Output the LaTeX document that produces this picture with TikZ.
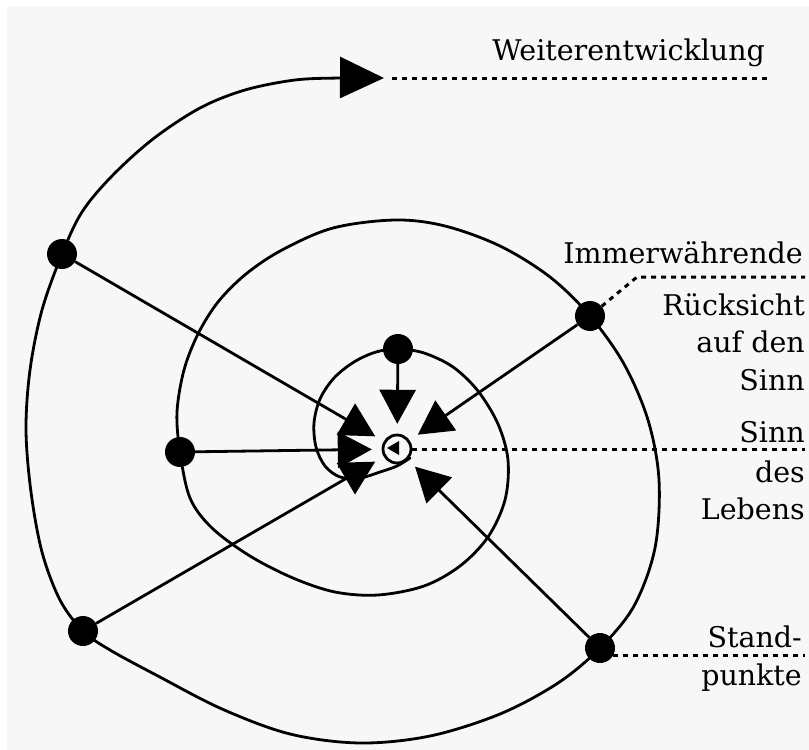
\documentclass[tikz,border=0pt]{standalone}
\usepackage{fontspec}
\setmainfont{DejaVu Serif}
\usetikzlibrary{arrows.meta}
\definecolor{bg}{HTML}{F7F7F7}
\begin{document}
\begin{tikzpicture}[x=1pt,y=-1pt,
  curve/.style={line width=2.8pt, line join=round, line cap=round},
  dot/.style={circle, fill=black, minimum size=30pt, inner sep=0pt},
  arr/.style={line width=2.8pt, -{Triangle[length=34pt,width=36pt]}},
  leader/.style={line width=3pt, dash pattern=on 5pt off 5pt},
  lbl/.style={anchor=base east, inner sep=0pt, font=\fontsize{28.5}{34}\selectfont}]
\useasboundingbox (0,0) rectangle (809,750);
\fill[white] (0,0) rectangle (809,750);
\fill[bg] (7,6) rectangle (809,750);

% spiral
\draw[curve, -{Triangle[length=44pt,width=41pt]}] plot[smooth, tension=0.55] coordinates {
(410,458) (397,466) (380,472) (360,478) (340,477) (325,466) (316,447) (314,423)
(320,399) (334,378) (354,362) (376,352) (398,349) (424,353) (453,367) (478,391)
(498,424) (508,460) (505,500) (488,537) (460,566) (424,586) (378,595) (335,592)
(293,578) (250,556) (212,528) (190,498) (180,452) (177,412) (184,370) (198,334)
(218,302) (246,274) (282,250) (333,228) (395,220) (445,226) (500,246) (550,277)
(590,316) (624,364) (648,420) (659,480) (655,548) (634,606) (600,648) (558,683)
(500,714) (430,736) (360,743) (290,734) (222,709) (158,676) (110,650) (83,631)
(60,600) (42,552) (31,492) (26,430) (30,370) (42,310) (62,254) (82,212)
(112,176) (153,139) (200,108) (245,90) (295,80) (340,78) (384,78)};

% centre
\node[circle, minimum size=50pt, inner sep=0pt] (hub) at (397,449) {};
\node[circle, draw, line width=2.8pt, minimum size=28pt, inner sep=0pt, fill=bg] (c) at (397,449) {};
\fill (387,448) -- (399,441) -- (399,455) -- cycle;

% standpoints
\node[dot] (d1) at (62,254) {};
\node[dot] (d2) at (180,452) {};
\node[dot] (d3) at (398,349) {};
\node[dot] (d4) at (590,316) {};
\node[dot] (d5) at (600,648) {};
\node[dot] (d6) at (83,631) {};

\foreach \d in {d1,d2,d3,d4,d5,d6} \draw[arr] (\d) -- (hub);

% leaders
\coordinate (wA) at (392,78);
\coordinate (wB) at (768,78);
\draw[leader] (wA) -- (wB);
\coordinate (iA) at (637,277);
\coordinate (iB) at (805,277);
\draw[leader] (d4) -- (iA) -- (iB);
\coordinate (sB) at (805,449);
\draw[leader] (c) -- (sB);
\coordinate (pB) at (805,655);
\draw[leader] (d5.-30) -- (d5.-30 -| pB);

% labels
\node[lbl] (t1) at (765,60) {Weiterentwicklung};
\node[lbl] (t2) at (803,263) {Immerwährende};
\node[lbl] (t3) at (805,315) {Rücksicht};
\node[lbl] (t4) at (805,352) {auf den};
\node[lbl] (t5) at (805,390) {Sinn};
\node[lbl] (t6) at (805,442) {Sinn};
\node[lbl] (t7) at (805,482) {des};
\node[lbl] (t8) at (805,519) {Lebens};
\node[lbl] (t9) at (802,647) {Stand-};
\node[lbl] (t10) at (802,685) {punkte};
\end{tikzpicture}
\end{document}
